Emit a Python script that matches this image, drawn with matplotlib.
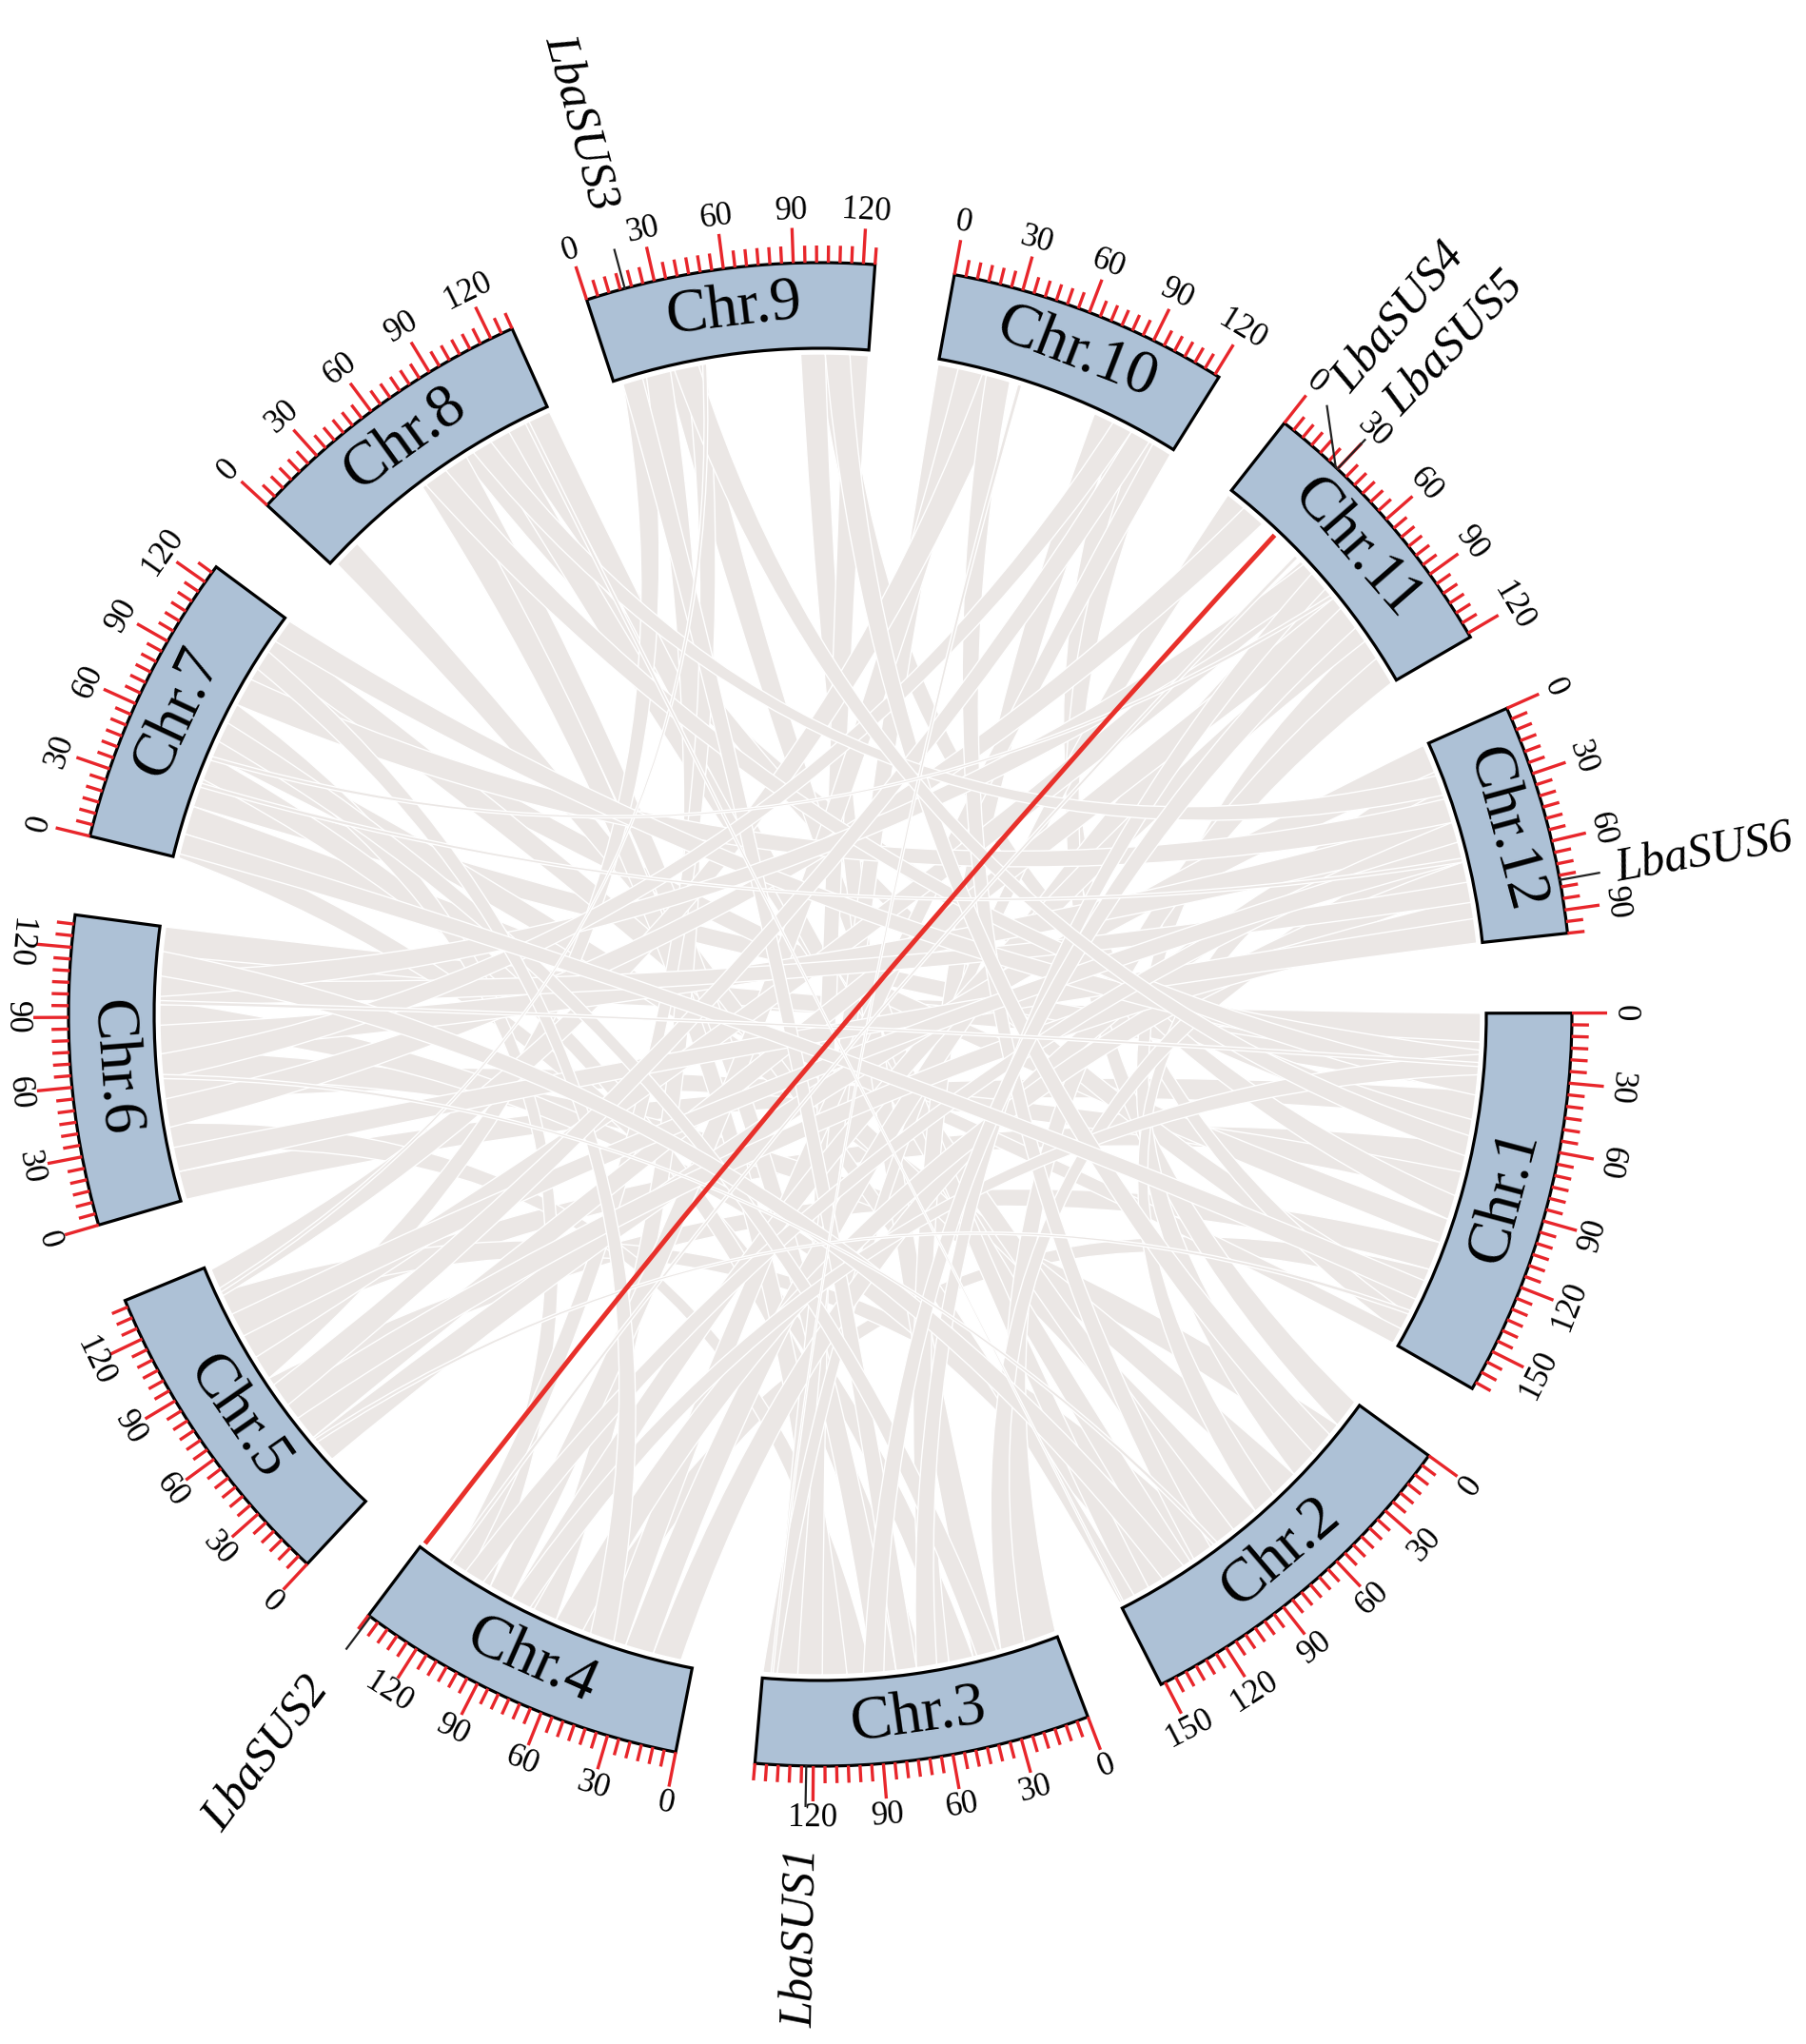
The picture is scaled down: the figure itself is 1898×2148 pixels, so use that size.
import numpy as np
import matplotlib.pyplot as plt
from matplotlib.patches import Wedge, PathPatch
from matplotlib.path import Path
from matplotlib.collections import LineCollection

# chromosomes, clockwise from 3 o'clock (sizes in Mb)
chrom_names = ['Chr.1', 'Chr.2', 'Chr.3', 'Chr.4', 'Chr.5', 'Chr.6',
               'Chr.7', 'Chr.8', 'Chr.9', 'Chr.10', 'Chr.11', 'Chr.12']
chrom_len = [168, 152, 145, 145, 138, 134, 128, 130, 125, 122, 122, 100]

# SUS genes (chromosome number, position in Mb)
gene_names = ['LbaSUS1', 'LbaSUS2', 'LbaSUS3', 'LbaSUS4', 'LbaSUS5', 'LbaSUS6']
gene_chrom = [3, 4, 9, 11, 11, 12]
gene_pos = [123, 144, 17, 29, 30, 77]

# segmental duplication pair of SUS genes (red)
sus_pair = (11, 30, 4, 144)

# collinear blocks across the genome (chrA, startA, endA, chrB, startB, endB)
syn_blocks = [
    (1, 0, 14, 6, 106, 120), (1, 14, 26, 6, 120, 134), (1, 26, 38, 7, 26, 40),
    (1, 38, 52, 6, 0, 14), (1, 52, 64, 8, 82, 96), (1, 64, 78, 5, 98, 112),
    (1, 78, 90, 6, 48, 62), (1, 90, 102, 9, 100, 114), (1, 102, 114, 7, 94, 108),
    (1, 114, 128, 5, 62, 76), (1, 128, 140, 4, 44, 58), (1, 140, 152, 8, 106, 118),
    (1, 152, 162, 10, 92, 106), (1, 160, 168, 7, 12, 26),
    (2, 0, 14, 10, 104, 116), (2, 14, 30, 6, 60, 74), (2, 30, 46, 11, 96, 110),
    (2, 46, 60, 7, 52, 66), (2, 60, 72, 12, 12, 26), (2, 72, 86, 7, 106, 120),
    (2, 86, 98, 8, 94, 108), (2, 98, 112, 5, 110, 124), (2, 112, 124, 8, 118, 130),
    (2, 124, 136, 6, 84, 98), (2, 136, 146, 9, 26, 40), (2, 144, 152, 8, 2, 16),
    (3, 0, 16, 11, 108, 122), (3, 16, 28, 12, 48, 62), (3, 28, 42, 9, 92, 104),
    (3, 42, 54, 7, 0, 12), (3, 54, 66, 10, 80, 94), (3, 66, 80, 7, 40, 52),
    (3, 80, 92, 8, 70, 84), (3, 92, 104, 6, 24, 38), (3, 104, 116, 8, 58, 72),
    (3, 116, 128, 9, 113, 125), (3, 128, 140, 10, 0, 12), (3, 138, 145, 11, 0, 10),
    (4, 6, 20, 12, 24, 38), (4, 20, 34, 11, 60, 74), (4, 34, 46, 10, 112, 122),
    (4, 56, 70, 12, 60, 74), (4, 70, 82, 9, 14, 28), (4, 82, 94, 11, 84, 98),
    (4, 94, 106, 10, 10, 24), (4, 106, 118, 7, 66, 80), (4, 118, 128, 9, 36, 46),
    (5, 26, 40, 12, 0, 14), (5, 40, 52, 11, 72, 86), (5, 52, 64, 12, 78, 92),
    (5, 76, 88, 9, 4, 16), (5, 88, 100, 11, 48, 62), (5, 122, 136, 10, 22, 36),
    (6, 14, 26, 12, 88, 100), (6, 36, 50, 11, 10, 22), (6, 72, 86, 12, 36, 50),
    (6, 96, 108, 12, 70, 80), (7, 80, 94, 12, 28, 40), (7, 116, 128, 1, 18, 30),
    (8, 60, 72, 1, 30, 40), (9, 4, 14, 3, 70, 80), (10, 24, 36, 2, 100, 110),
    (11, 50, 62, 6, 100, 112), (12, 40, 50, 4, 110, 120), (5, 100, 112, 12, 50, 60),
    (7, 60, 70, 3, 30, 40), (6, 60, 72, 10, 90, 100),
    (1, 20, 30, 4, 84, 94), (2, 20, 32, 9, 104, 116), (3, 60, 70, 11, 56, 66),
    (4, 40, 52, 7, 100, 110), (5, 60, 72, 10, 100, 110), (6, 110, 122, 2, 116, 128),
    (12, 16, 26, 8, 88, 98), (11, 78, 90, 3, 86, 96), (7, 2, 12, 1, 134, 144),
    (9, 30, 42, 1, 60, 70),
    # thin blocks
    (7, 36, 38, 12, 58, 60), (6, 96, 98, 1, 24, 26), (10, 40, 42, 3, 140, 141),
    (9, 44, 46, 5, 124, 126), (11, 44, 46, 4, 128, 130), (8, 117, 119, 2, 150, 151),
    (5, 37, 39, 1, 150, 152), (7, 50, 52, 11, 70, 72), (6, 60, 62, 2, 96, 98),
]

# ---- layout ----
W, H = 1899, 2148
cx, cy = 862, H - 1066
R_in, R_out = 700, 790
R_link = 694
bend = 0.25
gap = 6.1
start_deg = 0.1
deg_per_mb = (360 - gap * len(chrom_len)) / sum(chrom_len)
chrom_start = [start_deg - sum(chrom_len[:i]) * deg_per_mb - i * gap
               for i in range(len(chrom_len))]

block_color = '#adc1d6'
tick_color = '#e8262b'
link_color = '#ebe7e5'
serif = 'Liberation Serif'


def ang(c, pos):
    return chrom_start[c - 1] - pos * deg_per_mb


def pt(r, a):
    t = np.radians(a)
    return (cx + r * np.cos(t), cy + r * np.sin(t))


def arc(r, a1, a2, n=40):
    t = np.radians(np.linspace(a1, a2, n))
    return list(zip(cx + r * np.cos(t), cy + r * np.sin(t)))


def ctrl(p, q):
    return (cx + bend * ((p[0] + q[0]) / 2 - cx), cy + bend * ((p[1] + q[1]) / 2 - cy))


def upright(rot):
    rot = (rot + 180) % 360 - 180
    if rot <= -90:
        rot += 180
    elif rot > 90:
        rot -= 180
    return rot


fig = plt.figure(figsize=(W / 100, H / 100), dpi=100)
ax = fig.add_axes([0, 0, 1, 1])
ax.set_xlim(0, W)
ax.set_ylim(0, H)
ax.axis('off')

# gray ribbons
for c1, s1, e1, c2, s2, e2 in syn_blocks:
    A = arc(R_link, ang(c1, s1), ang(c1, e1))
    B = arc(R_link, ang(c2, s2), ang(c2, e2))
    verts = A + [ctrl(A[-1], B[0]), B[0]] + B[1:] + [ctrl(B[-1], A[0]), A[0]]
    codes = ([Path.MOVETO] + [Path.LINETO] * (len(A) - 1) + [Path.CURVE3] * 2
             + [Path.LINETO] * (len(B) - 1) + [Path.CURVE3] * 2)
    ax.add_patch(PathPatch(Path(verts, codes), facecolor=link_color,
                           edgecolor='white', lw=1.0, zorder=1))

# red link between SUS genes
ca, pa, cb, pb = sus_pair
P, Q = pt(R_link, ang(ca, pa)), pt(R_link, ang(cb, pb))
p = Path([P, ctrl(P, Q), Q], [Path.MOVETO, Path.CURVE3, Path.CURVE3])
ax.add_patch(PathPatch(p, facecolor='none', edgecolor='#e8302a', lw=3.6, zorder=2))

# chromosome blocks, ticks and labels
segs = []
for i, (name, L) in enumerate(zip(chrom_names, chrom_len)):
    a0 = chrom_start[i]
    a1 = a0 - L * deg_per_mb
    ax.add_patch(Wedge((cx, cy), R_out, a1, a0, width=R_out - R_in,
                       facecolor=block_color, edgecolor='black', lw=2.3, zorder=3))
    mid = (a0 + a1) / 2
    x, y = pt((R_in + R_out) / 2, mid)
    ax.text(x, y, name, fontsize=47, family=serif, rotation=upright(mid - 90),
            rotation_mode='anchor', ha='center', va='center', zorder=5)
    for p_mb in range(0, L + 1, 5):
        a = ang(i + 1, p_mb)
        major = p_mb % 30 == 0
        segs.append([pt(R_out, a), pt(R_out + (37 if major else 18), a)])
        if major:
            rot = (a - 90) % 360
            if 78 < rot < 257:
                rot -= 180
            x, y = pt(845, a)
            ax.text(x, y, str(p_mb), fontsize=25, family=serif, rotation=rot,
                    rotation_mode='anchor', ha='center', va='center', zorder=5)

ax.add_collection(LineCollection(segs, colors=tick_color, linewidths=2.4, zorder=3))

# SUS gene markers
label_shift = {'LbaSUS4': 3.5}
label_r = {'LbaSUS4': 858, 'LbaSUS6': 850}
for g, c, pos in zip(gene_names, gene_chrom, gene_pos):
    a = ang(c, pos)
    la = a + label_shift.get(g, 0)
    x0, y0 = pt(R_out, a)
    x1, y1 = pt(832, la)
    ax.plot([x0, x1], [y0, y1], color='#222222', lw=1.6, zorder=4)
    x, y = pt(label_r.get(g, 876), la)
    la_n = (la + 180) % 360 - 180
    if -90 < la_n <= 90:
        rot, ha = la_n, 'left'
    else:
        rot, ha = la_n - 180, 'right'
    ax.text(x, y, g, fontsize=36, family=serif, style='italic', rotation=rot,
            rotation_mode='anchor', ha=ha, va='center', zorder=5)

fig.savefig('out.png', dpi=100, facecolor='white')
